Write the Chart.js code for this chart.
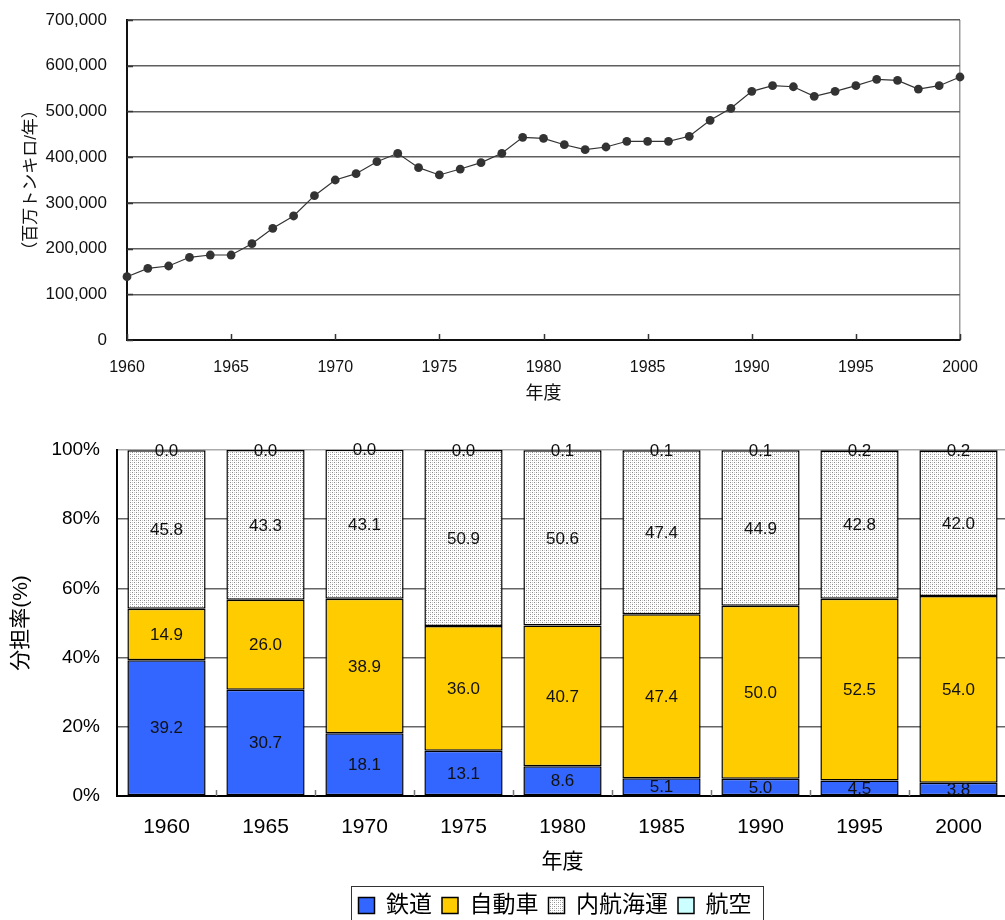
<!DOCTYPE html>
<html lang="ja">
<head>
<meta charset="utf-8">
<title>国内貨物輸送量と輸送機関別分担率</title>
<script src="https://cdn.jsdelivr.net/npm/chart.js@4.4.1/dist/chart.umd.min.js"></script>
<style>
  html, body { margin: 0; padding: 0; background: #fff; overflow: hidden; }
  body { width: 1005px; height: 920px; position: relative; }
  #volumeBox { position: absolute; left: 0; top: 0; width: 1005px; height: 420px; }
  #shareBox { position: absolute; left: 0; top: 420px; width: 1008px; height: 507px; }
</style>
</head>
<body>
<div id="volumeBox"><canvas id="volume" width="1005" height="420"></canvas></div>
<div id="shareBox"><canvas id="share" width="1008" height="507"></canvas></div>
<script>
// ---- 国内貨物輸送量（百万トンキロ/年） ----
const years = [1960, 1961, 1962, 1963, 1964, 1965, 1966, 1967, 1968, 1969,
               1970, 1971, 1972, 1973, 1974, 1975, 1976, 1977, 1978, 1979,
               1980, 1981, 1982, 1983, 1984, 1985, 1986, 1987, 1988, 1989,
               1990, 1991, 1992, 1993, 1994, 1995, 1996, 1997, 1998, 1999,
               2000];
const tonKm = [138500, 156800, 161900, 180900, 185900, 185900, 210700, 244300, 271300, 315700,
               350000, 363800, 390000, 408400, 377000, 361000, 374000, 388000, 408400, 443400,
               441200, 427200, 416300, 422200, 434700, 434700, 434700, 445600, 480600, 506800,
               544000, 556300, 554000, 533000, 544000, 556300, 570300, 568000, 549000, 556300,
               575300];
const volumeYTicks = [0, 100000, 200000, 300000, 400000, 500000, 600000, 700000];

// ---- 輸送機関別分担率（%） ----
const shareYears = ['1960', '1965', '1970', '1975', '1980', '1985', '1990', '1995', '2000'];
const rail    = [39.2, 30.7, 18.1, 13.1, 8.6, 5.1, 5.0, 4.5, 3.8];
const road    = [14.9, 26.0, 38.9, 36.0, 40.7, 47.4, 50.0, 52.5, 54.0];
const coastal = [45.8, 43.3, 43.1, 50.9, 50.6, 47.4, 44.9, 42.8, 42.0];
const air     = [0.0, 0.0, 0.0, 0.0, 0.1, 0.1, 0.1, 0.2, 0.2];
const modeNames = ['鉄道', '自動車', '内航海運', '航空'];

const FONT = '"Liberation Sans", "Noto Sans CJK JP", Arial, sans-serif';
Chart.defaults.font.family = FONT;
Chart.defaults.color = '#000';

// short tick marks drawn on the inner side of the axes
const innerTicks = {
  id: 'innerTicks',
  afterDraw(chart, args, opts) {
    const { ctx, chartArea } = chart;
    const x = chart.scales.x, y = chart.scales.y;
    const len = opts.length || 6;
    ctx.save();
    ctx.strokeStyle = opts.color || '#333';
    ctx.lineWidth = opts.width || 1.5;
    ctx.beginPath();
    if (opts.between) {
      for (let i = 0; i < x.ticks.length - 1; i++) {
        const px = Math.round((x.getPixelForValue(i) + x.getPixelForValue(i + 1)) / 2) + 0.5;
        ctx.moveTo(px, chartArea.bottom);
        ctx.lineTo(px, chartArea.bottom - len);
      }
    } else {
      x.ticks.forEach(t => {
        const px = Math.round(x.getPixelForValue(t.value)) + 0.5;
        ctx.moveTo(px, chartArea.bottom);
        ctx.lineTo(px, chartArea.bottom - len);
      });
      y.ticks.forEach(t => {
        const py = Math.round(y.getPixelForValue(t.value)) + 0.5;
        ctx.moveTo(chartArea.left, py);
        ctx.lineTo(chartArea.left + len, py);
      });
    }
    ctx.stroke();
    ctx.restore();
  }
};

// ---- line chart: 国内貨物輸送量 ----
new Chart(document.getElementById('volume'), {
  type: 'line',
  data: {
    datasets: [{
      label: '国内貨物輸送量',
      data: years.map((yr, i) => ({ x: yr, y: tonKm[i] })),
      borderColor: '#333',
      borderWidth: 1.2,
      pointRadius: 4.4,
      pointBackgroundColor: '#333',
      pointBorderColor: '#333',
      pointBorderWidth: 0,
      tension: 0,
      clip: false
    }]
  },
  options: {
    responsive: false,
    animation: false,
    events: [],
    layout: { padding: { top: 20, right: 45, bottom: 0, left: 0 } },
    plugins: {
      legend: { display: false },
      tooltip: { enabled: false },
      innerTicks: { length: 6, color: '#333', width: 1.5 }
    },
    scales: {
      x: {
        type: 'linear',
        min: 1960, max: 2000,
        ticks: { stepSize: 5, padding: 18, color: '#111', font: { size: 16 },
                 callback: v => String(v) },
        grid: {
          drawTicks: false,
          color: c => (c.tick && c.tick.value === 2000) ? '#9a9a9a' : 'rgba(0,0,0,0)',
          lineWidth: 1.5
        },
        border: { color: '#111', width: 2 },
        title: { display: true, text: '年度', color: '#111',
                 font: { size: 18 }, padding: { top: 0, bottom: 15 } },
        afterFit: s => { s.height = 80; }
      },
      y: {
        min: 0, max: 700000,
        afterBuildTicks: s => { s.ticks = volumeYTicks.map(v => ({ value: v })); },
        ticks: { padding: 20, color: '#111', font: { size: 17 },
                 callback: v => Number(v).toLocaleString('en-US') },
        grid: { drawTicks: false, color: '#5f5f5f', lineWidth: 1.5 },
        border: { color: '#111', width: 2 },
        title: { display: true, text: '（百万トンキロ/年）', color: '#111',
                 font: { size: 17 }, padding: { top: 21, bottom: 0 } },
        afterFit: s => { s.width = 127; s.paddingTop = 0; }
      }
    }
  },
  plugins: [innerTicks]
});

// ---- stacked bar chart: 分担率 ----
const shareCanvas = document.getElementById('share');

// fine grey stipple used for 内航海運
function stipple(ctx) {
  const tile = document.createElement('canvas');
  tile.width = 4; tile.height = 4;
  const g = tile.getContext('2d');
  g.fillStyle = '#ffffff'; g.fillRect(0, 0, 4, 4);
  g.fillStyle = '#8c8c8c'; g.fillRect(0, 0, 1, 1); g.fillRect(2, 2, 1, 1);
  g.fillStyle = '#c8c8c8'; g.fillRect(2, 0, 1, 1); g.fillRect(0, 2, 1, 1);
  return ctx.createPattern(tile, 'repeat');
}
const seaFill = stipple(shareCanvas.getContext('2d'));

// value written at the middle of each bar segment
const segmentLabels = {
  id: 'segmentLabels',
  afterDatasetsDraw(chart) {
    const { ctx } = chart;
    ctx.save();
    ctx.font = '17px ' + FONT;
    ctx.fillStyle = '#111';
    ctx.textAlign = 'center';
    ctx.textBaseline = 'middle';
    chart.data.datasets.forEach((ds, di) => {
      const meta = chart.getDatasetMeta(di);
      meta.data.forEach((bar, i) => {
        const p = bar.getProps(['x', 'y', 'base'], true);
        ctx.fillText(Number(ds.data[i]).toFixed(1), p.x, (p.y + p.base) / 2 + 1);
      });
    });
    ctx.restore();
  }
};

// legend placement and its surrounding frame
const legendFrame = {
  id: 'legendFrame',
  afterLayout(chart, args, opts) {
    const lg = chart.legend;
    const shift = opts.centerX - (lg.left + lg.right) / 2;
    lg.left += shift;
    lg.right += shift;
  },
  afterDraw(chart) {
    const lg = chart.legend;
    const boxes = lg.legendHitBoxes;
    if (!boxes || !boxes.length) return;
    const first = boxes[0], last = boxes[boxes.length - 1];
    const l = Math.round(first.left - 8) + 0.5;
    const r = Math.round(last.left + last.width + 11) + 0.5;
    const t = Math.round(lg.top + 2) + 0.5;
    const b = lg.bottom + 10;
    const ctx = chart.ctx;
    ctx.save();
    ctx.strokeStyle = '#333';
    ctx.lineWidth = 1;
    ctx.strokeRect(l, t, r - l, b - t);
    ctx.restore();
  }
};

const segStyle = { borderColor: '#000', borderWidth: 1.5, borderSkipped: false,
                   barPercentage: 0.79, categoryPercentage: 1.0 };

new Chart(shareCanvas, {
  type: 'bar',
  data: {
    labels: shareYears,
    datasets: [
      Object.assign({ label: modeNames[0], data: rail,    backgroundColor: '#3366ff' }, segStyle),
      Object.assign({ label: modeNames[1], data: road,    backgroundColor: '#ffcc00' }, segStyle),
      Object.assign({ label: modeNames[2], data: coastal, backgroundColor: seaFill }, segStyle),
      Object.assign({ label: modeNames[3], data: air,     backgroundColor: '#ccffff' }, segStyle)
    ]
  },
  options: {
    responsive: false,
    animation: false,
    events: [],
    layout: { padding: { top: 30, right: 0, bottom: 0, left: 0 } },
    plugins: {
      tooltip: { enabled: false },
      legend: {
        display: true,
        position: 'bottom',
        labels: {
          boxWidth: 16, boxHeight: 16, padding: 10,
          color: '#000', font: { size: 23 }
        }
      },
      legendFrame: { centerX: 555 },
      innerTicks: { length: 6, color: '#777', width: 1.5, between: true }
    },
    scales: {
      x: {
        stacked: true,
        grid: { display: false, drawTicks: false },
        border: { color: '#000', width: 2 },
        ticks: { padding: 19, color: '#000', font: { size: 21 } },
        title: { display: true, text: '年度', color: '#000',
                 font: { size: 21 }, padding: { top: 0, bottom: 9 } },
        afterFit: s => { s.height = 88; }
      },
      y: {
        stacked: true,
        min: 0, max: 100,
        ticks: { stepSize: 20, padding: 17, color: '#000', font: { size: 19 },
                 callback: v => v + '%' },
        grid: {
          drawTicks: false,
          color: c => (c.tick && c.tick.value === 100) ? '#aaaaaa' : '#666666',
          lineWidth: 1.5
        },
        border: { color: '#000', width: 2 },
        title: { display: true, text: '分担率(%)', color: '#000',
                 font: { size: 21 }, padding: { top: 9, bottom: 0 } },
        afterFit: s => { s.width = 117; }
      }
    }
  },
  plugins: [segmentLabels, legendFrame, innerTicks]
});
</script>
</body>
</html>
